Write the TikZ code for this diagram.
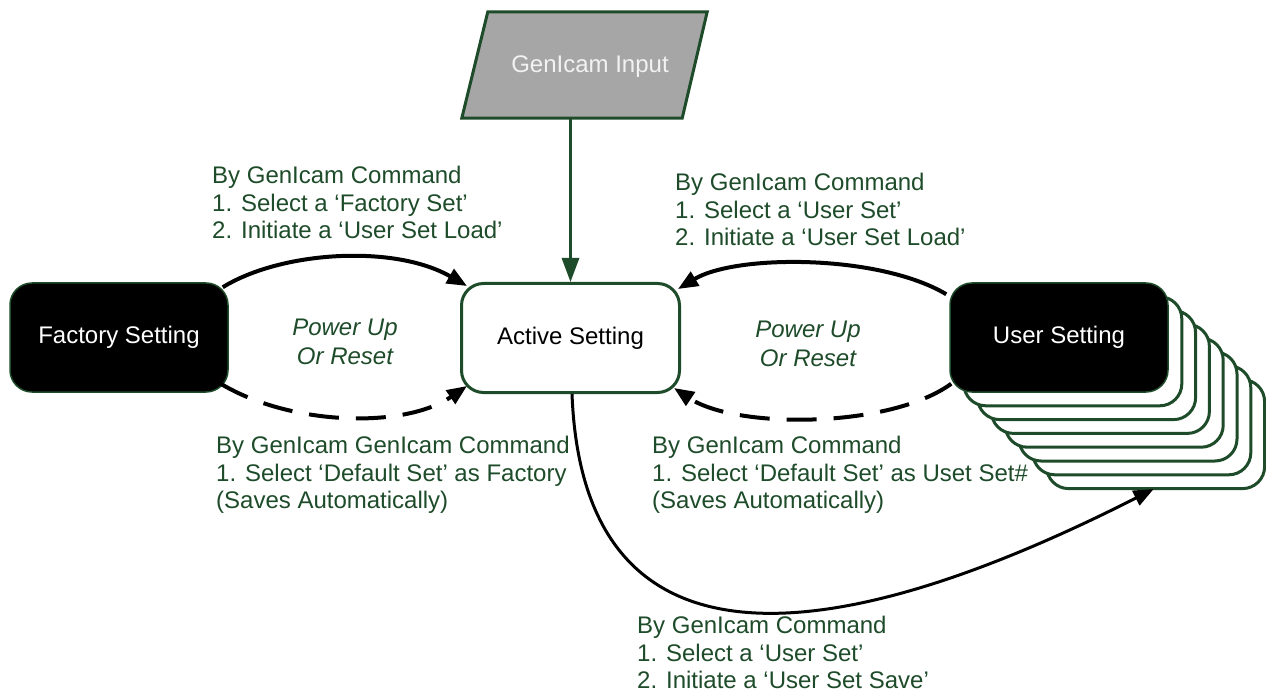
\documentclass[tikz,border=0pt]{standalone}
\usepackage{fontspec}
\setmainfont{Liberation Sans}
\usetikzlibrary{arrows.meta}
\definecolor{dkgreen}{RGB}{30,76,42}
\definecolor{ingray}{RGB}{166,166,166}
\begin{document}
\begin{tikzpicture}[x=1pt,y=-1pt,
  box/.style={rounded corners=22pt, minimum width=218pt, minimum height=109pt, inner sep=0pt, font=\fontsize{24}{28}\selectfont},
  blackbox/.style={box, fill=black, draw=dkgreen, line width=1.5pt, text=white},
  stackbox/.style={box, fill=white, draw=dkgreen, line width=3pt},
  activebox/.style={box, fill=white, draw=dkgreen, line width=3pt},
  lbl/.style={anchor=north west, inner sep=0pt, align=left, text=dkgreen, font=\fontsize{24}{27.5}\selectfont},
  pwr/.style={inner sep=0pt, align=center, text=dkgreen, font=\fontsize{24}{29}\selectfont\itshape},
  conn/.style={draw=black, line width=4pt, -{Triangle[length=20pt,width=16pt]}},
  dconn/.style={conn, dash pattern=on 30pt off 17pt},
]
\useasboundingbox (0,0) rectangle (1266,692);
\fill[white] (0,0) rectangle (1266,692);

% GenIcam input
\node[minimum width=245pt, minimum height=106pt, inner sep=0pt] (gin) at (584.5,65) {};
\draw[fill=ingray, draw=dkgreen, line width=3pt] ([xshift=26pt]gin.north west) -- (gin.north east) -- ([xshift=-25pt]gin.south east) -- (gin.south west) -- cycle;
\node[text=white!95!black, font=\fontsize{24}{28}\selectfont, inner sep=0pt] (gintext) at ([xshift=5.5pt,yshift=-2pt]gin.center) {GenIcam Input};

% boxes
\node[blackbox] (fac) at (119,337.5) {Factory Setting};
\node[activebox] (act) at (570.5,338) {Active Setting};
\foreach \i in {7,6,...,1} {
  \node[stackbox] (s\i) at (1059+13.8*\i, 337.5+13.8*\i) {};
}
\node[blackbox] (usr) at (1059,337.5) {User Setting};

% connectors
\draw[dkgreen, line width=3pt, -{Triangle[length=24pt,width=17pt]}] (gin.south -| act.north) -- (act.north);
\draw[conn] ([shift={(-6,5)}]fac.north east) .. controls +(58,-36) and +(-73,-42) .. ([shift={(7,4)}]act.north west);
\draw[dconn] ([shift={(-8,-9)}]fac.south east) .. controls +(70,42) and +(-63,43) .. ([shift={(7,-8)}]act.south west);
\draw[conn] ([shift={(-3,12)}]usr.north west) .. controls +(-67,-40) and +(58,-35) .. ([shift={(-3,7)}]act.north east);
\draw[dconn] ([shift={(2,-9)}]usr.south west) .. controls +(-62,45) and +(62,41) .. ([shift={(-7,-6)}]act.south east);
\draw[conn, line width=3pt] ([shift={(1.5,0)}]act.south) .. controls +(13,337) and +(-233,118) .. ([shift={(-2,-1)}]s7.south);

% labels
\node[lbl] (la) at (212,166) {By GenIcam Command\\1. Select a ‘Factory Set’\\2. Initiate a ‘User Set Load’};
\node[lbl] (lb) at (675,173) {By GenIcam Command\\1. Select a ‘User Set’\\2. Initiate a ‘User Set Load’};
\node[lbl] (lc) at (216,436) {By GenIcam GenIcam Command\\1. Select ‘Default Set’ as Factory\\(Saves Automatically)};
\node[lbl] (ld) at (652,436) {By GenIcam Command\\1. Select ‘Default Set’ as Uset Set\#\\(Saves Automatically)};
\node[lbl] (le) at (637,616) {By GenIcam Command\\1. Select a ‘User Set’\\2. Initiate a ‘User Set Save’};
\node[pwr] (pl) at (345,342) {Power Up\\Or Reset};
\node[pwr] (pr) at (808,344) {Power Up\\Or Reset};
\end{tikzpicture}
\end{document}
